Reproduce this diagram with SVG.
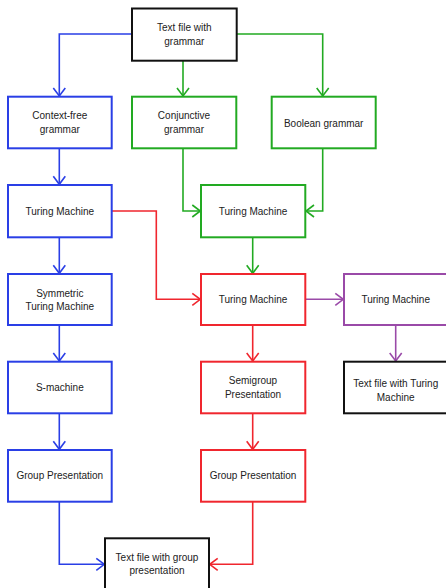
<svg xmlns="http://www.w3.org/2000/svg" width="446" height="588" viewBox="0 0 446 588">
<style>
rect{fill:#fff;stroke-width:2}
text{font-family:"Liberation Sans",Arial,sans-serif;font-size:10px;fill:#222;text-anchor:middle;dominant-baseline:central}
.b{stroke:#2a3fe6}.g{stroke:#22aa22}.r{stroke:#f0262e}.p{stroke:#9a4aa8}.k{stroke:#111}
#connectors path{fill:none;stroke-width:1.6}
</style>
<defs>
<marker id="ab" markerUnits="userSpaceOnUse" markerWidth="14" markerHeight="14" refX="9" refY="6" orient="auto" overflow="visible"><path d="M1,0 L9,6 L1,12" fill="none" stroke="#2a3fe6" stroke-width="1.6"/></marker>
<marker id="ag" markerUnits="userSpaceOnUse" markerWidth="14" markerHeight="14" refX="9" refY="6" orient="auto" overflow="visible"><path d="M1,0 L9,6 L1,12" fill="none" stroke="#22aa22" stroke-width="1.6"/></marker>
<marker id="ar" markerUnits="userSpaceOnUse" markerWidth="14" markerHeight="14" refX="9" refY="6" orient="auto" overflow="visible"><path d="M1,0 L9,6 L1,12" fill="none" stroke="#f0262e" stroke-width="1.6"/></marker>
<marker id="ap" markerUnits="userSpaceOnUse" markerWidth="14" markerHeight="14" refX="9" refY="6" orient="auto" overflow="visible"><path d="M1,0 L9,6 L1,12" fill="none" stroke="#9a4aa8" stroke-width="1.6"/></marker>
</defs>
<g id="connectors">
<path class="b" d="M132,34 H59.3 V96" marker-end="url(#ab)"/>
<path class="g" d="M183,60.7 V96" marker-end="url(#ag)"/>
<path class="g" d="M236.7,34 H322.7 V96" marker-end="url(#ag)"/>
<path class="b" d="M59.3,148.3 V184.3" marker-end="url(#ab)"/>
<path class="g" d="M183,148.3 V211 H200.3" marker-end="url(#ag)"/>
<path class="g" d="M322.7,148.3 V211 H306" marker-end="url(#ag)"/>
<path class="r" d="M111.7,211 H156.3 V299.3 H200.3" marker-end="url(#ar)"/>
<path class="b" d="M59.3,237.3 V273.3" marker-end="url(#ab)"/>
<path class="g" d="M252.7,237.3 V273.3" marker-end="url(#ag)"/>
<path class="p" d="M305.3,299.3 H343.3" marker-end="url(#ap)"/>
<path class="b" d="M59.3,325 V361" marker-end="url(#ab)"/>
<path class="r" d="M252.7,325 V361" marker-end="url(#ar)"/>
<path class="p" d="M395.7,325 V361" marker-end="url(#ap)"/>
<path class="b" d="M59.3,413.3 V449.3" marker-end="url(#ab)"/>
<path class="r" d="M252.7,413.3 V449.3" marker-end="url(#ar)"/>
<path class="b" d="M59.3,501.7 V564.3 H104.3" marker-end="url(#ab)"/>
<path class="r" d="M252.7,501.7 V564.3 H209.7" marker-end="url(#ar)"/>
</g>
<g id="top"><rect class="k" x="132" y="8.5" width="104.7" height="52.2"/><text x="184.3" y="27">Text file with</text><text x="184.3" y="41.5">grammar</text></g>
<g id="cfg"><rect class="b" x="8" y="96.7" width="103.7" height="51.6"/><text x="59.8" y="115.5">Context-free</text><text x="59.8" y="129">grammar</text></g>
<g id="conj"><rect class="g" x="132" y="96.7" width="104.3" height="51.6"/><text x="184" y="115.5">Conjunctive</text><text x="184" y="129">grammar</text></g>
<g id="bool"><rect class="g" x="271.7" y="96.7" width="104" height="51.6"/><text x="323.7" y="123">Boolean grammar</text></g>
<g id="tm1"><rect class="b" x="8" y="185" width="103.7" height="52.3"/><text x="59.8" y="211">Turing Machine</text></g>
<g id="tm2"><rect class="g" x="201" y="185" width="104.3" height="52.3"/><text x="253" y="211">Turing Machine</text></g>
<g id="sym"><rect class="b" x="8" y="274" width="103.7" height="51"/><text x="59.8" y="293">Symmetric</text><text x="59.8" y="306.5">Turing Machine</text></g>
<g id="tm3"><rect class="r" x="201" y="274" width="104.3" height="51"/><text x="253" y="299.5">Turing Machine</text></g>
<g id="tm4"><rect class="p" x="344" y="274" width="104" height="51"/><text x="395.7" y="299.5">Turing Machine</text></g>
<g id="smach"><rect class="b" x="8" y="361.7" width="103.7" height="51.6"/><text x="59.8" y="387">S-machine</text></g>
<g id="semi"><rect class="r" x="201" y="361.7" width="104.3" height="51.6"/><text x="253" y="380.5">Semigroup</text><text x="253" y="394">Presentation</text></g>
<g id="tmfile"><rect class="k" x="344" y="361.7" width="104" height="51.6"/><text x="395.7" y="383.5">Text file with Turing</text><text x="395.7" y="397.5">Machine</text></g>
<g id="gp1"><rect class="b" x="8" y="450" width="103.7" height="51.7"/><text x="59.8" y="475.5">Group Presentation</text></g>
<g id="gp2"><rect class="r" x="201" y="450" width="104.3" height="51.7"/><text x="253" y="475.5">Group Presentation</text></g>
<g id="out"><rect class="k" x="105" y="538.3" width="104" height="60"/><text x="157" y="557">Text file with group</text><text x="157" y="570.5">presentation</text></g>
</svg>
